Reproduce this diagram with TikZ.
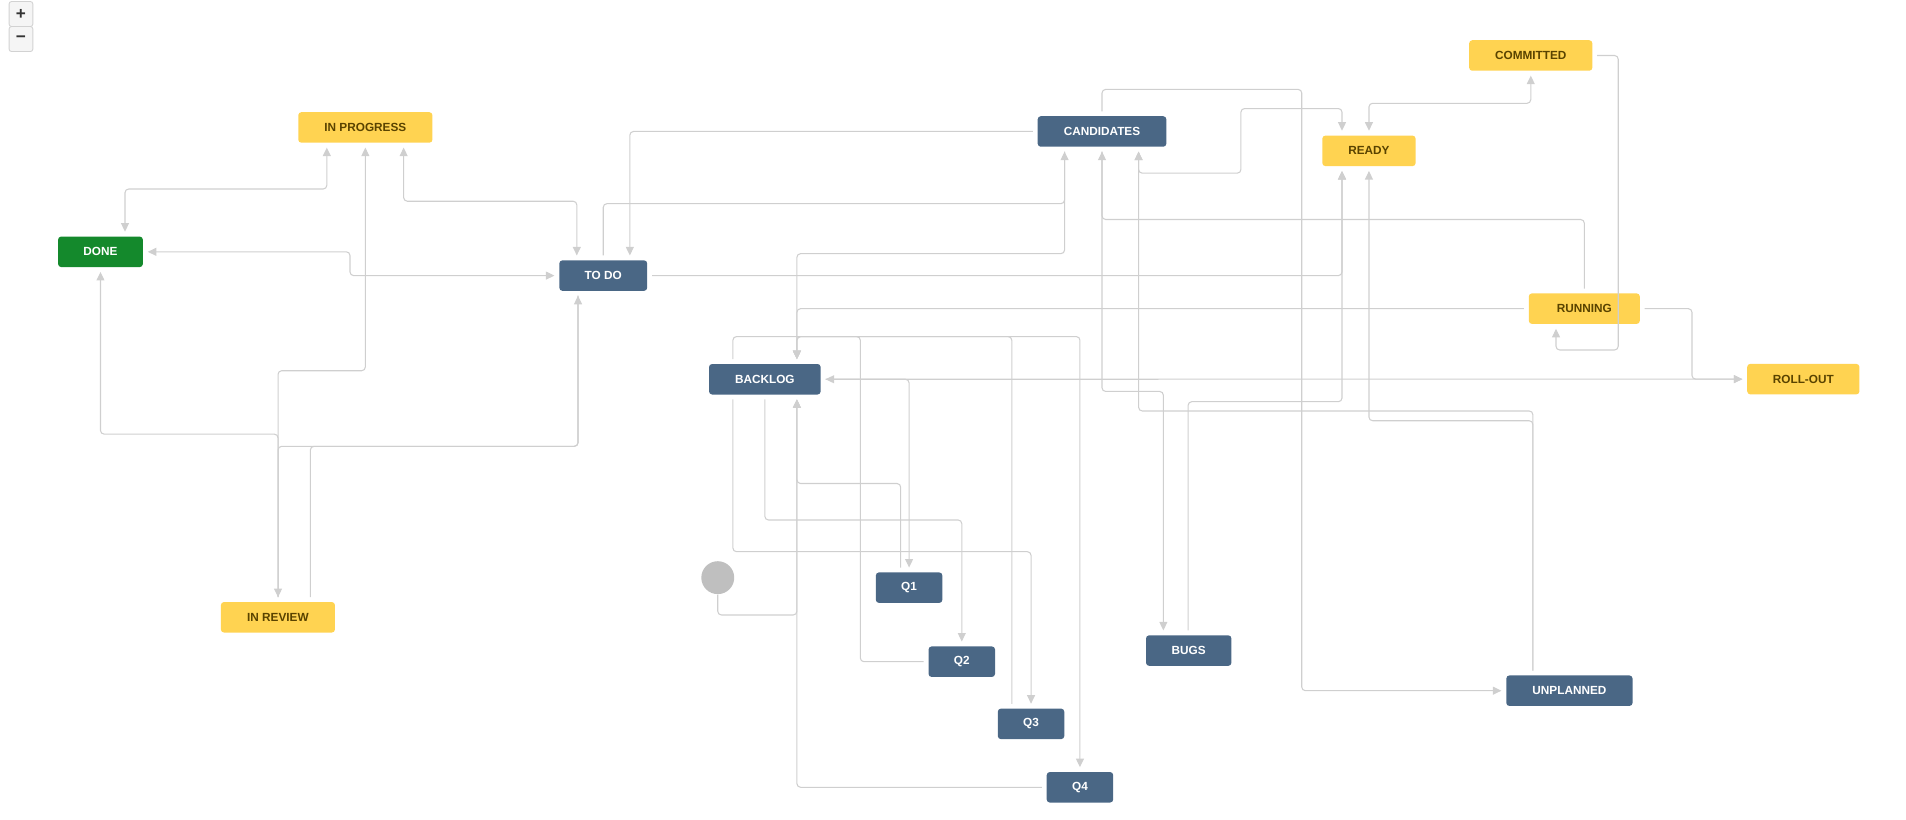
\documentclass[tikz,border=0pt]{standalone}
\usepackage{fontspec}
\setmainfont{Liberation Sans}
\usetikzlibrary{arrows.meta}
\usepackage{xcolor}
\definecolor{jirablue}{HTML}{4A6785}
\definecolor{jirayellow}{HTML}{FFD351}
\definecolor{jirabrown}{HTML}{594300}
\definecolor{jiragreen}{HTML}{14892C}
\definecolor{linegray}{HTML}{CFCFCF}
\definecolor{startgray}{HTML}{BFBFBF}

\begin{document}
\begin{tikzpicture}[x=0.2mm,y=-0.2mm,
        >={Triangle[length=1.4mm,width=1.3mm]},
        box/.style={rectangle,rounded corners=0.5mm,minimum height=5mm,inner sep=0pt,outer sep=0.8mm,font=\fontsize{5.5}{6}\selectfont\bfseries},
        bluebox/.style={box,fill=jirablue,text=white},
        yellowbox/.style={box,fill=jirayellow,text=jirabrown},
        greenbox/.style={box,fill=jiragreen,text=white},
        zoombtn/.style={rectangle,draw=gray!35,fill=gray!8,rounded corners=0.4mm,minimum width=3.9mm,minimum height=4.1mm,inner sep=0pt,font=\fontsize{8}{8}\selectfont\bfseries,text=black!80},
        link/.style={draw=linegray,line width=0.5pt,rounded corners=0.6mm}]
        \useasboundingbox (0,0) rectangle (1563,672.4);

        \node[zoombtn] (zoomin) at (17.2,11.5) {+};
        \node[zoombtn] (zoomout) at (17.2,32) {−};

        \node[greenbox,minimum width=13.9mm] (done) at (82.4,206.5) {DONE};
        \node[yellowbox,minimum width=22mm] (inprog) at (299.6,104.5) {IN PROGRESS};
        \node[bluebox,minimum width=14.4mm] (todo) at (494.7,226) {TO DO};
        \node[yellowbox,minimum width=18.7mm] (inreview) at (227.9,506.2) {IN REVIEW};
        \node[bluebox,minimum width=21.1mm] (cand) at (903.7,107.8) {CANDIDATES};
        \node[yellowbox,minimum width=15.3mm] (ready) at (1122.6,123.7) {READY};
        \node[yellowbox,minimum width=20.2mm] (commit) at (1255.3,45.5) {COMMITTED};
        \node[yellowbox,minimum width=18.2mm] (running) at (1299.2,253.1) {RUNNING};
        \node[yellowbox,minimum width=18.4mm] (rollout) at (1478.8,310.9) {ROLL-OUT};
        \node[bluebox,minimum width=18.3mm] (backlog) at (627.2,311) {BACKLOG};
        \node[bluebox,minimum width=10.9mm] (q1) at (745.5,481.9) {Q1};
        \node[bluebox,minimum width=10.9mm] (q2) at (788.7,542.6) {Q2};
        \node[bluebox,minimum width=10.9mm] (q3) at (845.5,593.6) {Q3};
        \node[bluebox,minimum width=10.9mm] (q4) at (885.6,645.6) {Q4};
        \node[bluebox,minimum width=14mm] (bugs) at (974.8,533.5) {BUGS};
        \node[bluebox,minimum width=20.7mm] (unplanned) at (1287,566.4) {UNPLANNED};
        \node[shape=circle,fill=startgray,minimum size=5.4mm,inner sep=0pt] (start) at (588.6,473.7) {};

        \draw[link,<->] (inprog.south -| 268,0) |- (102.5,155) -- (done.north -| 102.5,0);
        \draw[link,<->] (inprog.south -| 331,0) |- (473,165) -- (todo.north -| 473,0);
        \draw[link,<->] (done.east) -| (287,216) |- (todo.west);
        \draw[link,->] (inreview.north -| 228,0) |- (done.south |- 0,356) -- (done.south);
        \draw[link,->] (inreview.north -| 228,0) |- (inprog.south |- 0,304) -- (inprog.south);
        \draw[link,->] (todo.south -| 474,0) |- (228,366) -- (inreview.north -| 228,0);
        \draw[link,->] (inreview.north -| 254.5,0) |- (474,366) -- (todo.south -| 474,0);
        \draw[link,->] (cand.west) -| (todo.north -| 516.5,0);
        \draw[link,->] (todo.north) |- (873,167) -- (cand.south -| 873,0);
        \draw[link,->] (cand.south -| 873,0) |- (653.5,208) -- (backlog.north -| 653.5,0);
        \draw[link,->] (running.west) -| (backlog.north -| 653.5,0);
        \draw[link,->] (todo.east) -| (ready.south -| 1100.5,0);
        \draw[link,->] (bugs.north -| 974.3,0) |- (1100.5,329.4) -- (ready.south -| 1100.5,0);
        \draw[link,->] (unplanned.north -| 1257,0) |- (ready.south |- 0,345) -- (ready.south);
        \draw[link,->] (unplanned.north -| 1257,0) |- (933.7,337) -- (cand.south -| 933.7,0);
        \draw[link,<->] (cand.south -| 933.7,0) |- (1017.6,142) -- (1017.6,89) -| (ready.north -| 1100.5,0);
        \draw[link,<->] (ready.north) |- (commit.south |- 0,84.7) -- (commit.south);
        \draw[link,->] (cand.north) |- (1067.5,73.3) |- (unplanned.west);
        \draw[link,->] (commit.east) -| (1327,287) -| (running.south -| 1276,0);
        \draw[link,->] (running.north) |- (cand.south |- 0,180) -- (cand.south);
        \draw[link,->] (cand.south) |- (954,321) -- (bugs.north -| 954,0);
        \draw[link,->] (running.east) -| (1387.5,282) |- (rollout.west);
        \draw[link,<->] (backlog.east) -- (rollout.west);
        \draw[link,->] (backlog.east) -| (q1.north);
        \draw[link,->] (q1.north -| 738.6,0) |- (653.5,396.5) -- (backlog.south -| 653.5,0);
        \draw[link,->] (backlog.south) |- (q2.north |- 0,426.4) -- (q2.north);
        \draw[link,->] (backlog.south -| 601,0) |- (q3.north |- 0,452.4) -- (q3.north);
        \draw[link,->] (q2.west) -| (705.5,400) |- (653.5,276) -- (backlog.north -| 653.5,0);
        \draw[link,->] (q3.north -| 829.7,0) |- (653.5,276) -- (backlog.north -| 653.5,0);
        \draw[link,->] (backlog.north -| 601,0) |- (q4.north |- 0,276) -- (q4.north);
        \draw[link,->] (q4.west) -| (backlog.south -| 653.5,0);
        \draw[link,->] (start.south) |- (653.5,504.3) -- (backlog.south -| 653.5,0);
    \end{tikzpicture}
\end{document}
